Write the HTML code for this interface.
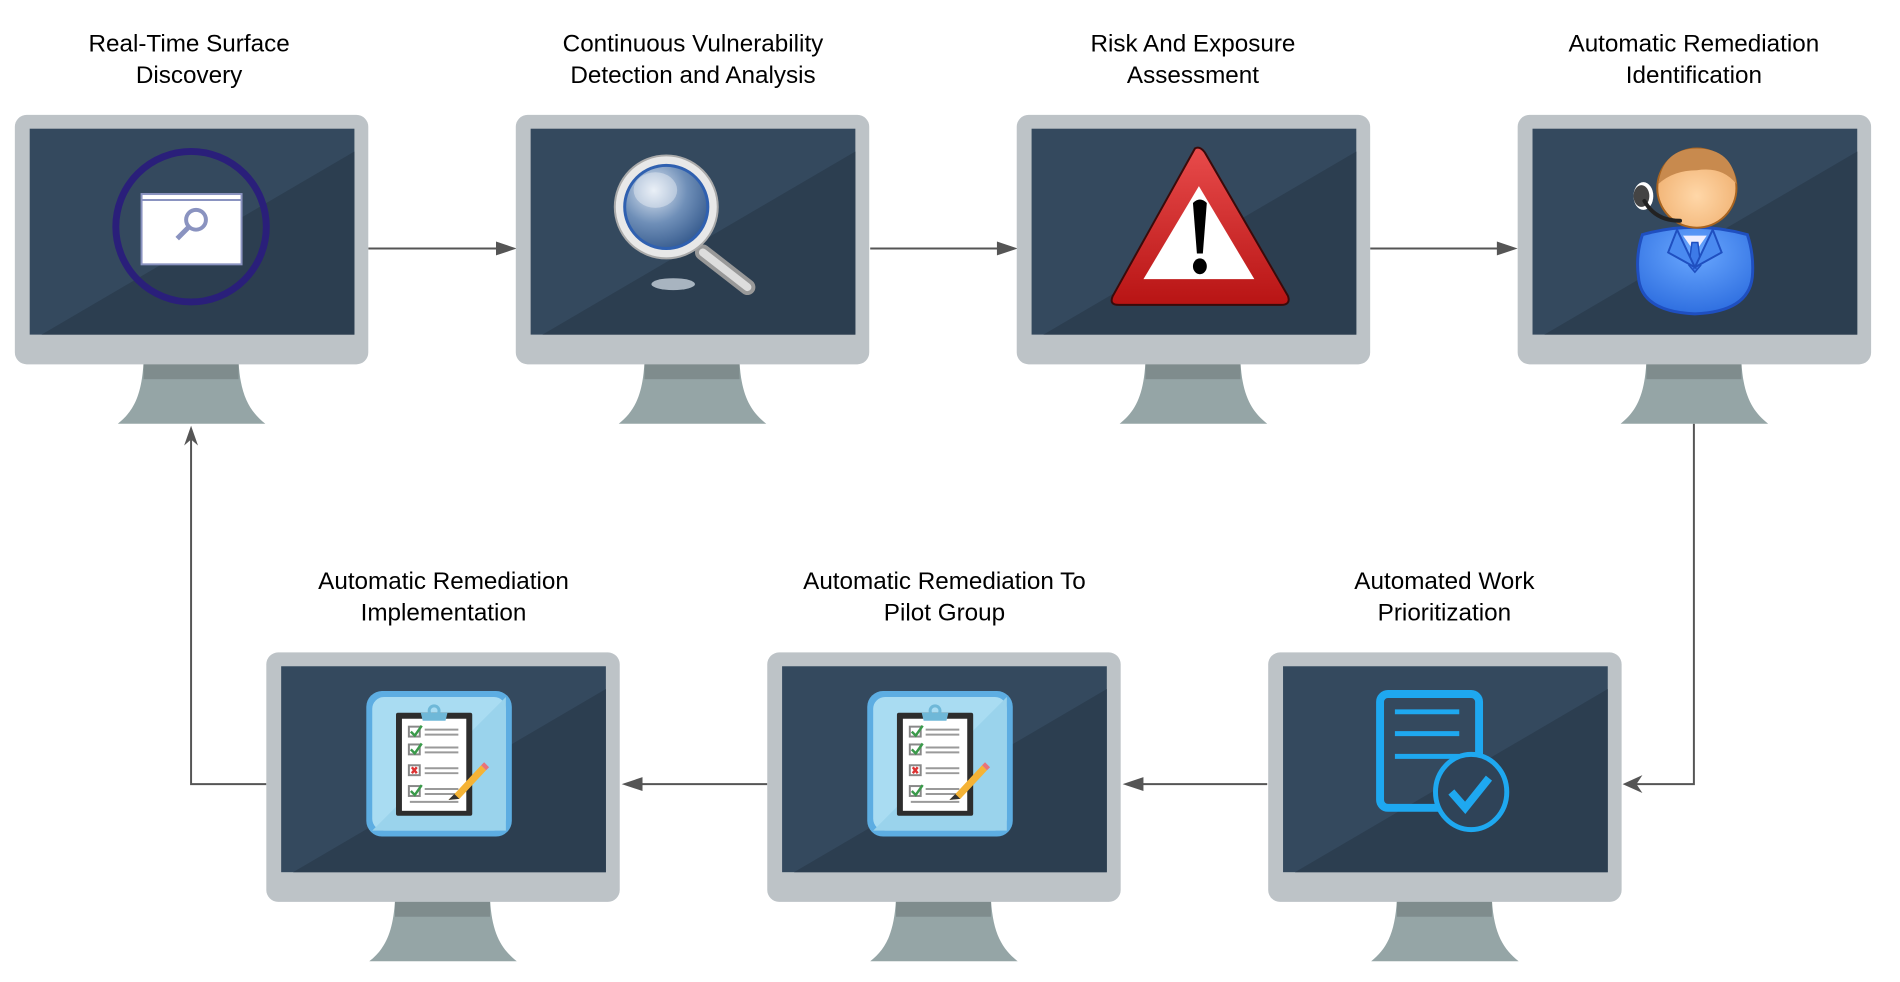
<!DOCTYPE html>
<html><head><meta charset="utf-8"><style>
html,body{margin:0;padding:0;background:#fff;width:1900px;height:982px;overflow:hidden}
svg{display:block}
text{font-family:"Liberation Sans",Arial,sans-serif;font-size:24.5px;fill:#000;text-anchor:middle}
</style></head><body>
<svg width="1900" height="982" viewBox="0 0 1900 982" xmlns="http://www.w3.org/2000/svg">
<defs>
<g id="mon">
  <path d="M130,250 L226,250 C228,285 238,300 253,312 L104,312 C119,300 128,285 130,250Z" fill="#95a5a6"/>
  <rect x="130" y="250" width="96" height="17" fill="#7f8c8d"/>
  <rect x="0" y="0" width="357" height="252" rx="12" fill="#bdc3c7"/>
  <rect x="15" y="14" width="328" height="208" fill="#34495e"/>
  <polygon points="27,222 343,222 343,37" fill="#2c3e50"/>
</g>
<g id="clip">
  <rect x="0" y="0" width="147" height="147" rx="16" fill="#5dade2"/>
  <rect x="6" y="6" width="135" height="135" rx="12" fill="#a9dcf2"/>
  <polygon points="6,141 141,6 141,141" fill="#9ad3ec"/>
  <rect x="30" y="22" width="77" height="104" rx="2" fill="#2d2d2d"/>
  <rect x="36" y="28" width="65" height="93" fill="#fff"/>
  <path d="M55,22 L82,22 L80,30 L57,30Z" fill="#6fb8d8"/><circle cx="68.5" cy="20" r="5" fill="none" stroke="#6fb8d8" stroke-width="3"/>
  <g fill="none" stroke="#888" stroke-width="2">
   <rect x="43" y="36" width="11" height="10"/><rect x="43" y="54" width="11" height="10"/><rect x="43" y="75" width="11" height="10"/><rect x="43" y="96" width="11" height="10"/>
  </g>
  <g stroke="#9a9a9a" stroke-width="2">
   <line x1="59" y1="39" x2="93" y2="39"/><line x1="59" y1="44" x2="93" y2="44"/>
   <line x1="59" y1="57" x2="93" y2="57"/><line x1="59" y1="62" x2="93" y2="62"/>
   <line x1="59" y1="78" x2="93" y2="78"/><line x1="59" y1="83" x2="93" y2="83"/>
   <line x1="59" y1="99" x2="93" y2="99"/><line x1="59" y1="104" x2="93" y2="104"/>
   <line x1="44" y1="112" x2="93" y2="112"/>
  </g>
  <g fill="none" stroke="#3a9a4a" stroke-width="2.5"><path d="M45,41 L49,45 L56,35"/><path d="M45,59 L49,63 L56,53"/><path d="M45,101 L49,105 L56,95"/></g>
  <path d="M46,77 L51,83 M51,77 L46,83" stroke="#d33" stroke-width="2.5"/>
  <path d="M83,110 L89,104 L116,75 L121,80 L94,109 Z" fill="#f5b335"/>
  <path d="M116,75 L119,72 L124,77 L121,80Z" fill="#e8737a"/>
  <path d="M83,110 L89,104 L94,109Z" fill="#333"/>
</g>
<radialGradient id="lens" cx="0.35" cy="0.3" r="0.8"><stop offset="0" stop-color="#dfe8f3"/><stop offset="0.5" stop-color="#6f8fb8"/><stop offset="1" stop-color="#2f5488"/></radialGradient>
<linearGradient id="red" x1="0" y1="0" x2="0" y2="1"><stop offset="0" stop-color="#e84b4b"/><stop offset="1" stop-color="#b81414"/></linearGradient>
<radialGradient id="blue" cx="0.5" cy="0.3" r="0.7"><stop offset="0" stop-color="#6aa8ff"/><stop offset="1" stop-color="#2f6fe0"/></radialGradient>
<radialGradient id="skin" cx="0.5" cy="0.6" r="0.6"><stop offset="0" stop-color="#ffd7a8"/><stop offset="1" stop-color="#f0b070"/></radialGradient>
</defs>
<g transform="scale(0.99)">
<!-- labels -->
<text x="191" y="52">Real-Time Surface</text><text x="191" y="84">Discovery</text>
<text x="700" y="52">Continuous Vulnerability</text><text x="700" y="84">Detection and Analysis</text>
<text x="1205" y="52">Risk And Exposure</text><text x="1205" y="84">Assessment</text>
<text x="1711" y="52">Automatic Remediation</text><text x="1711" y="84">Identification</text>
<text x="448" y="595">Automatic Remediation</text><text x="448" y="627">Implementation</text>
<text x="954" y="595">Automatic Remediation To</text><text x="954" y="627">Pilot Group</text>
<text x="1459" y="595">Automated Work</text><text x="1459" y="627">Prioritization</text>

<!-- connectors -->
<g stroke="#555" stroke-width="2" fill="none">
  <line x1="372" y1="251" x2="510" y2="251"/>
  <line x1="879" y1="251" x2="1016" y2="251"/>
  <line x1="1384" y1="251" x2="1521" y2="251"/>
  <polyline points="1711,428 1711,792 1652,792"/>
  <line x1="1280" y1="792" x2="1146" y2="792"/>
  <line x1="775" y1="792" x2="640" y2="792"/>
  <polyline points="269,792 193,792 193,444"/>
</g>
<g fill="#555">
  <polygon points="522,251 501,244 501,258"/>
  <polygon points="1028,251 1007,244 1007,258"/>
  <polygon points="1533,251 1512,244 1512,258"/>
  <path d="M1639,792 L1659,783 L1653,792 L1659,801Z"/>
  <polygon points="1134,792 1155,785 1155,799"/>
  <polygon points="628,792 649,785 649,799"/>
  <path d="M193,430 L186,450 L193,444 L200,450Z"/>
</g>

<!-- monitors -->
<use href="#mon" x="15" y="116"/>
<use href="#mon" x="521" y="116"/>
<use href="#mon" x="1027" y="116"/>
<use href="#mon" x="1533" y="116"/>
<use href="#mon" x="269" y="659"/>
<use href="#mon" x="775" y="659"/>
<use href="#mon" x="1281" y="659"/>

<!-- icon 1 -->
<circle cx="193" cy="229" r="76" fill="none" stroke="#2a1f7a" stroke-width="7"/>
<rect x="143" y="196" width="101" height="71" fill="#fff" stroke="#8a93c0" stroke-width="2"/>
<line x1="143" y1="202" x2="244" y2="202" stroke="#8a93c0" stroke-width="2"/>
<circle cx="198" cy="222" r="10" fill="none" stroke="#8a93c0" stroke-width="4"/>
<line x1="191" y1="229" x2="179" y2="241" stroke="#8a93c0" stroke-width="5"/>

<!-- icon 2 magnifier -->
<ellipse cx="680" cy="287" rx="22" ry="6" fill="#c8d2dc" opacity="0.8"/>
<line x1="710" y1="255" x2="755" y2="290" stroke="#999" stroke-width="16" stroke-linecap="round"/>
<line x1="710" y1="255" x2="755" y2="290" stroke="#ddd" stroke-width="8" stroke-linecap="round"/>
<circle cx="673" cy="209" r="52" fill="#e8e8e8" stroke="#aaa" stroke-width="2"/>
<circle cx="673" cy="209" r="42" fill="url(#lens)" stroke="#2f60b0" stroke-width="3"/>
<ellipse cx="662" cy="192" rx="22" ry="18" fill="#fff" opacity="0.35"/>

<!-- icon 3 warning -->
<path d="M1207,150 Q1212,147 1217,154 L1301,299 Q1304,308 1294,308 L1130,308 Q1120,308 1124,299 Z" fill="url(#red)" stroke="#3a0a0a" stroke-width="2"/>
<polygon points="1211,188 1267,282 1155,282" fill="#fff"/>
<path d="M1205,205 Q1212,198 1219,205 L1215,256 L1209,256 Z" fill="#000"/>
<ellipse cx="1212" cy="269" rx="7" ry="8" fill="#000"/>

<!-- icon 4 person -->
<path d="M1659,237 Q1712,222 1765,237 Q1772,258 1770,280 Q1766,315 1712,317 Q1658,315 1655,280 Q1652,258 1659,237Z" fill="url(#blue)" stroke="#1f4fc0" stroke-width="3"/>
<path d="M1700,238 L1712,255 L1724,238Z" fill="#eef" />
<path d="M1709,245 L1715,245 L1718,268 L1712,275 L1706,268Z" fill="#3d7ae8" stroke="#1f4fc0" stroke-width="1.5"/>
<path d="M1694,232 L1712,270 L1685,255Z M1730,232 L1712,270 L1739,255Z" fill="#4a8af0" stroke="#1f4fc0" stroke-width="2"/>
<circle cx="1714" cy="190" r="40" fill="url(#skin)" stroke="#a86420" stroke-width="2"/>
<path d="M1675,186 Q1680,150 1714,150 Q1750,150 1754,186 Q1740,168 1714,172 Q1690,172 1675,186Z" fill="#c88a4e"/>
<ellipse cx="1660" cy="198" rx="10" ry="14" fill="#fff"/>
<ellipse cx="1658" cy="198" rx="8" ry="11" fill="#444"/>
<path d="M1661,203 Q1672,223 1697,223" stroke="#222" stroke-width="4" fill="none" stroke-linecap="round"/>

<!-- icons 5,6 clipboards -->
<use href="#clip" x="370" y="698"/>
<use href="#clip" x="876" y="698"/>

<!-- icon 7 doc check -->
<rect x="1394" y="701" width="100" height="115" rx="8" fill="none" stroke="#1ea8f0" stroke-width="8"/>
<g stroke="#1ea8f0" stroke-width="5"><line x1="1409" y1="719" x2="1474" y2="719"/><line x1="1409" y1="741" x2="1474" y2="741"/><line x1="1409" y1="764" x2="1474" y2="764"/></g>
<ellipse cx="1486" cy="800" rx="36" ry="38" fill="#2f4358"/>
<ellipse cx="1486" cy="800" rx="36" ry="38" fill="none" stroke="#1ea8f0" stroke-width="5"/>
<path d="M1466,800 L1480,816 L1504,786" fill="none" stroke="#1ea8f0" stroke-width="8"/>
</g>
</svg>
</body></html>
